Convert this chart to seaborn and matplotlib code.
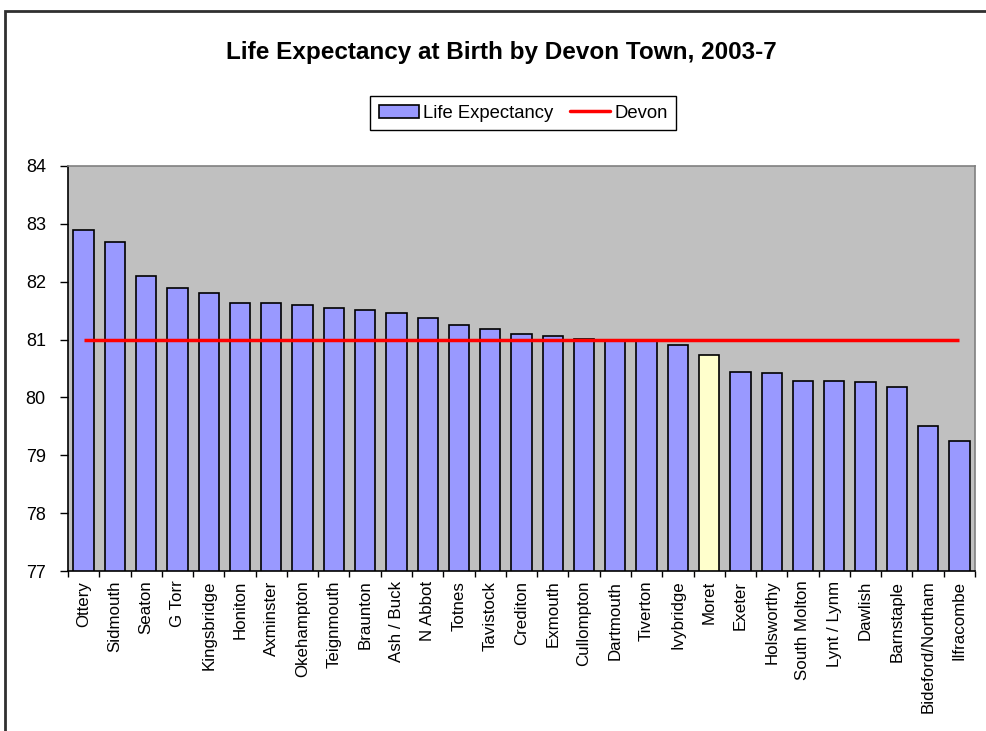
import numpy as np
import pandas as pd
import matplotlib.pyplot as plt
import matplotlib.patches as mpatches
from matplotlib.lines import Line2D
from matplotlib.ticker import FixedLocator
import seaborn as sns

TOWNS = ["Ottery", "Sidmouth", "Seaton", "G Torr", "Kingsbridge", "Honiton",
         "Axminster", "Okehampton", "Teignmouth", "Braunton", "Ash / Buck",
         "N Abbot", "Totnes", "Tavistock", "Crediton", "Exmouth", "Cullompton",
         "Dartmouth", "Tiverton", "Ivybridge", "Moret", "Exeter", "Holsworthy",
         "South Molton", "Lynt / Lynm", "Dawlish", "Barnstaple",
         "Bideford/Northam", "Ilfracombe"]
LIFE_EXP = [82.89, 82.69, 82.10, 81.89, 81.81, 81.64, 81.64, 81.59, 81.54,
            81.51, 81.46, 81.38, 81.25, 81.19, 81.09, 81.06, 81.01, 81.00,
            80.98, 80.90, 80.74, 80.44, 80.42, 80.28, 80.28, 80.26, 80.18,
            79.51, 79.25]
DEVON = 81.0
HIGHLIGHT = "Moret"

BAR_COLOR = "#9999FF"
HIGHLIGHT_COLOR = "#FFFFCC"
BG_COLOR = "#C0C0C0"

sns.set_theme(style="white")
plt.rcParams['font.family'] = ['Liberation Sans', 'DejaVu Sans']
plt.rcParams['text.color'] = 'black'
plt.rcParams['xtick.color'] = 'black'
plt.rcParams['ytick.color'] = 'black'
plt.rcParams['xtick.labelcolor'] = 'black'
plt.rcParams['ytick.labelcolor'] = 'black'

df = pd.DataFrame({'Town': TOWNS, 'Life': LIFE_EXP})
palette = {t: (HIGHLIGHT_COLOR if t == HIGHLIGHT else BAR_COLOR) for t in TOWNS}

fig = plt.figure(figsize=(9.87, 7.31), dpi=100)
ax = fig.add_axes([68 / 987, 160 / 731, (975 - 68) / 987, (571 - 166) / 731])
ax.set_facecolor(BG_COLOR)

sns.barplot(data=df, x='Town', y='Life', hue='Town', palette=palette,
            order=TOWNS, hue_order=TOWNS, legend=False, width=0.65,
            edgecolor='black', linewidth=1.2, saturation=1, ax=ax)

ax.hlines(DEVON, 0, len(TOWNS) - 1, color='#FF0000', linewidth=2.5, zorder=5)

ax.set_ylim(77, 84)
ax.set_xlim(-0.5, len(TOWNS) - 0.5)
ax.set_yticks(np.arange(77, 85, 1))
ax.set_xlabel('')
ax.set_ylabel('')

ax.set_xticks(range(len(TOWNS)))
ax.set_xticklabels(TOWNS, rotation=90, fontsize=12.2)
ax.xaxis.set_minor_locator(FixedLocator(np.arange(-0.5, len(TOWNS), 1)))
ax.tick_params(axis='x', which='major', length=0, pad=7)
ax.tick_params(axis='x', which='minor', bottom=True, length=4, width=1, color='black', direction='out')
ax.tick_params(axis='y', which='major', left=True, length=6, width=1, color='black',
               direction='out', labelsize=13, pad=10)

for side in ['left', 'bottom']:
    ax.spines[side].set_color('black')
    ax.spines[side].set_linewidth(1.2)
for side in ['top', 'right']:
    ax.spines[side].set_color('#808080')
    ax.spines[side].set_linewidth(1.2)

fig.text(0.508, 1 - 52 / 731, "Life Expectancy at Birth by Devon Town, 2003-7",
         ha='center', va='center', fontsize=17.5, fontweight='bold', color='black')

handles = [mpatches.Patch(facecolor=BAR_COLOR, edgecolor='black', linewidth=1.2, label='Life Expectancy'),
           Line2D([], [], color='#FF0000', linewidth=2.5, label='Devon')]
leg = fig.legend(handles=handles, loc='center', bbox_to_anchor=(523 / 987, 1 - 113 / 731),
                 ncol=2, frameon=True, fancybox=False, framealpha=1, edgecolor='black',
                 fontsize=13.3, handlelength=2.2, handletextpad=0.2, columnspacing=0.9,
                 borderpad=0.45)
leg.get_frame().set_linewidth(1.0)

frame = mpatches.Rectangle((5 / 987, -0.01), 1.0, 1 - 11 / 731 + 0.01, transform=fig.transFigure,
                           fill=False, edgecolor='#303030', linewidth=2, clip_on=False)
fig.patches.append(frame)

fig.savefig('out.png', dpi=100, facecolor='white')
